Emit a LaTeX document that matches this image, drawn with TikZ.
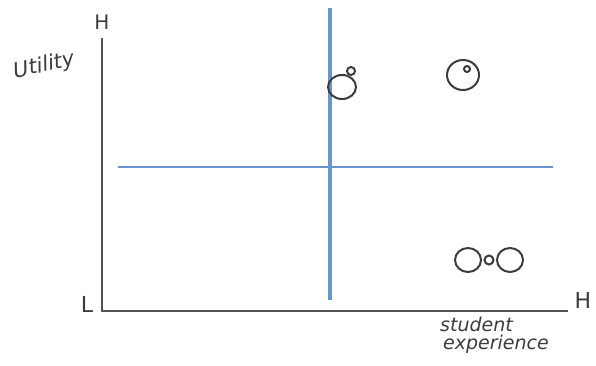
\documentclass[tikz,border=0pt]{standalone}
\usepackage{fontspec}
\setmainfont{DejaVu Sans}
\begin{document}
\begin{tikzpicture}[x=1pt,y=-1pt,
  axisline/.style={draw=axisgray,line width=2.2pt},
  blueline/.style={draw=penblue,line width=3.5pt},
  pen/.style={draw=pengray,line width=2pt},
  hand/.style={text=pengray,font=\itshape,inner sep=0pt}]
\definecolor{axisgray}{RGB}{85,85,85}
\definecolor{pengray}{RGB}{60,60,60}
\definecolor{penblue}{RGB}{105,150,205}
\useasboundingbox (0,0) rectangle (596,365);
% axes
\coordinate (ytop) at (102,38);
\coordinate (orig) at (102,311);
\coordinate (xend) at (568,311);
\draw[axisline] (ytop) -- (orig) -- (xend);
% blue lines
\coordinate (vtop) at (330,8);
\coordinate (vbot) at (330,300);
\coordinate (hl) at (118,167);
\coordinate (hr) at (553,167);
\draw[blueline] (vtop) -- (vbot);
\draw[draw=penblue,line width=2.5pt] (hl) -- (hr);
% labels
\node[hand,font=\fontsize{21}{24}\selectfont\itshape,rotate=12] (util) at (44,66) {Utility};
\node[hand,font=\fontsize{20}{22}\selectfont] (hy) at (102,22) {H};
\node[hand,font=\fontsize{22}{24}\selectfont] (ll) at (87,304) {L};
\node[hand,font=\fontsize{22}{24}\selectfont] (hx) at (583,300) {H};
\node[hand,font=\fontsize{19}{18}\selectfont\itshape,anchor=west] (s1) at (440,324) {student};
\node[hand,font=\fontsize{19}{18}\selectfont\itshape,anchor=west] (s2) at (443,344) {experience};
% symbols
\draw[pen] (342,87) ellipse [x radius=14,y radius=12];
\draw[pen] (351,71) circle [radius=4];
\draw[pen] (463,75) ellipse [x radius=16,y radius=15];
\draw[pen] (467,69) circle [radius=3];
\draw[pen] (468,260) ellipse [x radius=13,y radius=12];
\draw[pen] (510,260) ellipse [x radius=13,y radius=12];
\draw[pen] (489,260) circle [radius=4.5];
\end{tikzpicture}
\end{document}
